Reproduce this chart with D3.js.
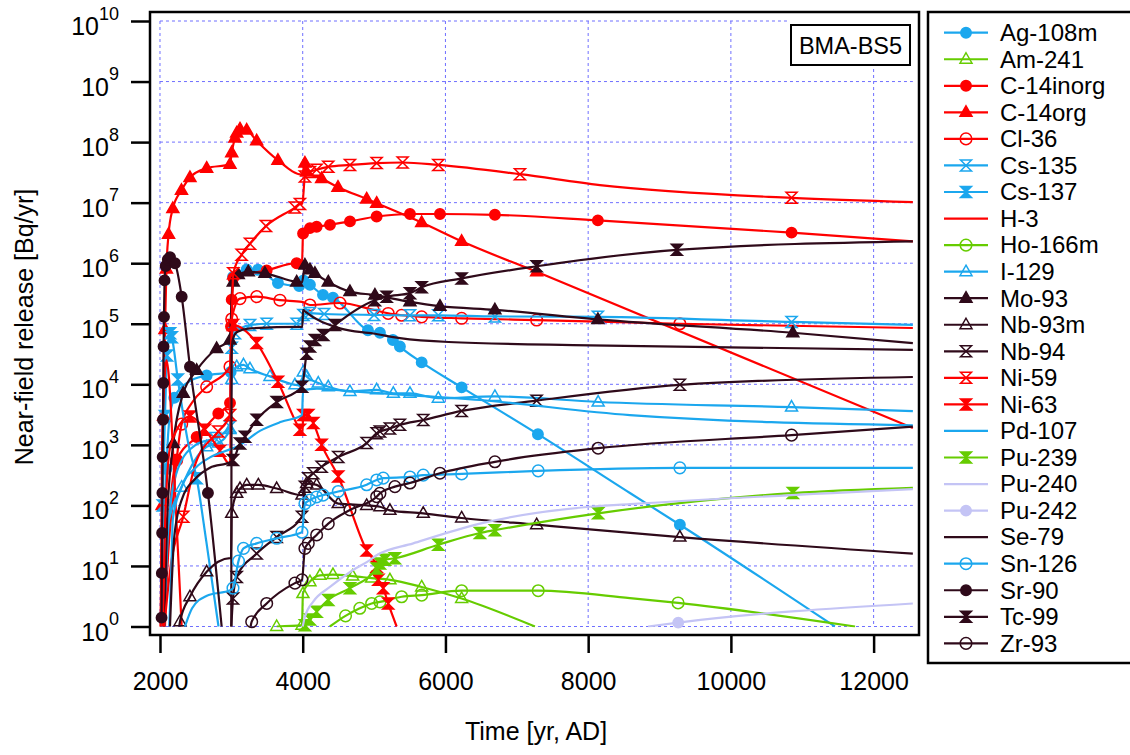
<!DOCTYPE html>
<html>
<head>
<meta charset="utf-8">
<script src="https://cdn.jsdelivr.net/npm/d3@7"></script>
<style>
  body { margin: 0; background: #fff; }
  svg text { font-family: "Liberation Sans", Arial, sans-serif; fill: #000; }
</style>
</head>
<body>
<svg id="chart" width="1130" height="755"></svg>
<script>
// [year AD, release Bq/yr, 1 = plotted symbol]
const ag108m = [[2040,1],[2060,30],[2090,400,1],[2130,2500],[2200,6000,1],[2400,1.1e4],[2654,1.4e4,1],[2990,1.6e4,1],[3005,3e5],[3023,5.9e5,1],[3215,7.9e5,1],[3373,7.8e5,1],[3653,4.7e5,1],[3950,4.2e5,1],[4010,5.2e5,1],[4101,4.4e5,1],[4284,3.0e5,1],[4424,2.7e5,1],[4914,7.8e4,1],[5082,7.1e4,1],[5264,5.4e4,1],[5362,4.2e4,1],[5667,2.3e4,1],[6227,8.9e3,1],[7296,1.5e3,1],[8585,160],[9285,48,1],[11457,1]];
const am241 = [[3635,1,1],[3990,1.05,1],[4003,3.5,1],[4101,5.5,1],[4242,7,1],[4424,7.2,1],[4700,6.8,1],[4966,6.3,1],[5222,5.9,1],[5667,4.5,1],[6227,2.9,1],[7254,1]];
const c14inorg = [[2070,1],[2120,40],[2234,560,1],[2514,1350,1],[2817,3300,1],[2981,4900,1],[2995,9e4,1],[3005,2.5e5,1],[3027,5.7e5,1],[3495,7.6e5,1],[3915,1e6,1],[3990,1e6],[4005,3.1e6,1],[4101,3.8e6,1],[4195,4e6,1],[4382,4.3e6,1],[4662,4.9e6,1],[5036,5.9e6,1],[5503,6.5e6,1],[5923,6.5e6,1],[6693,6.3e6,1],[8136,5.1e6,1],[10850,3.2e6,1],[12550,2.3e6]];
const c14org = [[2010,1],[2030,100,1],[2050,3e3,1],[2070,8e4,1],[2090,8e5,1],[2120,3e6,1],[2180,8e6,1],[2301,1.6e7,1],[2420,2.6e7,1],[2654,3.7e7,1],[2981,4.3e7,1],[3005,6.7e7,1],[3051,1.17e8,1],[3075,1.41e8,1],[3121,1.65e8,1],[3215,1.58e8,1],[3355,1.05e8,1],[3653,5e7,1],[3990,2.9e7],[4031,4.5e7,1],[4055,3.2e7,1],[4265,2.5e7,1],[4494,1.8e7,1],[4896,1.15e7,1],[5036,9.8e6,1],[5667,4.7e6,1],[6227,2.3e6,1],[7278,7.2e5,1],[12550,1.9e3]];
const cl36 = [[2060,1],[2120,20],[2200,200],[2234,560,1],[2304,2200,1],[2450,5000],[2654,9100,1],[2981,1.95e4,1],[3005,1.2e5,1],[3121,2.6e5,1],[3355,2.8e5,1],[3681,2.45e5,1],[3990,2.3e5],[4101,2.04e5,1],[4522,2.2e5,1],[4988,1.7e5,1],[5198,1.48e5,1],[5386,1.38e5,1],[5667,1.3e5,1],[6227,1.23e5,1],[7278,1.15e5,1],[9285,1.0e5,1],[12550,8.5e4]];
const cs135 = [[2060,1],[2120,50],[2250,400],[2500,1000],[2771,1300,1],[2981,2000,1],[3005,4e4,1],[3050,7e4,1],[3261,9.5e4,1],[3495,1.0e5,1],[3915,1.0e5,1],[3990,1.0e5],[4010,1.4e5,1],[4100,1.5e5,1],[4300,1.45e5,1],[5000,1.4e5,1],[5503,1.38e5,1],[5900,1.38e5,1],[6693,1.32e5,1],[8136,1.3e5,1],[10850,1.07e5,1],[12550,9.6e4]];
const cs137 = [[2020,1],[2040,100,1],[2070,3e3,1],[2100,3e4,1],[2140,7e4,1],[2165,6e4,1],[2250,1.2e4,1],[2400,1000],[2514,280,1],[2650,25],[2820,1]];
const h3 = [[2010,1],[2030,1e3],[2060,1e4],[2090,2.5e4],[2116,1.7e4],[2200,300],[2304,1]];
const ho166m = [[4380,1],[4600,1.5,1],[4800,2,1],[4966,2.4,1],[5082,2.55,1],[5386,3.1,1],[5667,3.3,1],[6227,3.9,1],[7300,3.9,1],[8585,2.95],[9260,2.45,1],[11740,1]];
const i129 = [[2060,1],[2100,40],[2304,200,1],[2654,930,1],[2817,1070,1],[2981,1800,1],[3005,1.2e4,1],[3075,1.95e4,1],[3170,2.1e4,1],[3261,1.8e4,1],[3541,1.35e4,1],[3891,9.8e3,1],[3990,9.5e3],[4008,1.6e4,1],[4055,1.35e4,1],[4218,1.05e4,1],[4358,9.1e3,1],[4662,7.6e3,1],[5036,8.1e3,1],[5270,7.1e3,1],[5503,7.1e3,1],[5900,5.9e3,1],[6693,6.3e3,1],[8140,5.1e3,1],[10850,4.2e3,1],[12550,3.6e3]];
const mo93 = [[2060,1],[2100,60],[2186,1050,1],[2326,7100,1],[2514,1.7e4,1],[2794,3.9e4,1],[2981,5.4e4,1],[3000,2e5],[3027,4.9e5,1],[3097,6.5e5,1],[3237,7.2e5,1],[3471,6.8e5,1],[3915,4.9e5,1],[3990,4.8e5],[4031,9.3e5,1],[4101,7.8e5,1],[4171,6.8e5,1],[4358,4.9e5,1],[4662,3.4e5,1],[5012,2.97e5,1],[5503,2.3e5,1],[5923,1.95e5,1],[6693,1.7e5,1],[8136,1.18e5,1],[10868,7.1e4,1],[12550,4.8e4]];
const nb93m = [[2270,1],[2280,1.2,1],[2420,3.1,1],[2654,8,1],[2981,13.5],[2995,13.5],[3005,74,1],[3075,158,1],[3121,190,1],[3215,218,1],[3378,218,1],[3635,190,1],[3990,148,1],[4055,230,1],[4195,218,1],[4498,107,1],[4896,100,1],[5082,95,1],[5222,83,1],[5689,74,1],[6227,62,1],[7278,48,1],[9285,30,1],[12550,16]];
const nb94 = [[3000,1],[3023,2.9,1],[3075,6.6,1],[3355,16,1],[3635,30,1],[3990,65,1],[4031,204,1],[4078,280,1],[4148,340,1],[4265,436,1],[4498,630,1],[4896,1070,1],[5036,1550,1],[5082,1660,1],[5222,1860,1],[5362,2140,1],[5689,2570,1],[6227,3630,1],[7278,5370,1],[9285,9800,1],[12550,1.32e4]];
const ni59 = [[2060,1],[2150,10],[2326,65,1],[2500,500],[2817,1660,1],[2981,3100,1],[3005,1e5],[3027,6.8e5,1],[3144,1.38e6,1],[3261,2.1e6,1],[3485,4.1e6,1],[3891,8.3e6,1],[3961,9.5e6,1],[3995,9.5e6],[4031,2.7e7,1],[4101,3.2e7,1],[4195,3.5e7,1],[4358,3.9e7,1],[4662,4.2e7,1],[5036,4.5e7,1],[5400,4.6e7,1],[5900,4.2e7,1],[7044,2.95e7,1],[8164,1.95e7],[10850,1.2e7,1],[12550,1.02e7]];
const ni63 = [[2040,1],[2080,100],[2150,1000],[2420,2950,1],[2630,1780,1],[2841,800,1],[2981,480],[3005,5e4],[3023,9.5e4,1],[3355,4.8e4,1],[3653,1.1e4,1],[3961,1780,1],[3995,1550],[4008,3100,1],[4078,3100,1],[4148,2300,1],[4265,1000,1],[4498,300,1],[4896,18,1],[5036,9.7,1],[5060,5.9,1],[5128,4.3,1],[5198,2.4,1],[5316,1]];
const pd107 = [[2130,1],[2160,10],[2180,60],[2300,200],[2500,420],[2700,620],[2990,850],[3075,930],[3400,1700],[3700,2400],[3990,3100],[4005,8000],[4200,8500],[4600,7800],[5000,7200],[6483,5500],[8585,3100],[12550,2100]];
const pu239 = [[3990,1],[4031,1.05,1],[4101,1.3,1],[4195,1.75,1],[4358,2.75,1],[4662,4.3,1],[5036,9.1,1],[5082,11,1],[5152,12.6,1],[5292,13.4,1],[5900,22.4,1],[6483,35,1],[6693,39,1],[8140,74,1],[10868,160,1],[12550,195]];
const pu240 = [[4000,1],[4031,1.45],[4150,2.6],[4382,4.5],[4700,8.5],[4942,12.5],[5036,15],[5549,23.6],[6483,50],[8024,95],[8585,105],[12550,186]];
const pu242 = [[8840,1],[9262,1.16,1],[12550,2.4]];
const se79 = [[2999,1],[3003,3e4],[3020,5.5e4],[3080,7.3e4],[3261,8.4e4],[3961,8.9e4],[3995,8.9e4],[4005,1.7e5],[4031,1.6e5],[4522,8.4e4],[4988,6.9e4],[5362,5.8e4],[6044,5e4],[8024,4.4e4],[12550,3.7e4]];
const sn126 = [[2350,1],[2450,2],[2650,3.2],[2990,4],[3023,4.3,1],[3100,12,1],[3170,19.5,1],[3355,23.6,1],[3635,28.6,1],[3990,36,1],[4031,107,1],[4101,123,1],[4195,138,1],[4285,148,1],[4498,170,1],[4896,219,1],[5036,263,1],[5128,282,1],[5503,295,1],[5689,316,1],[6227,331,1],[7300,372,1],[9285,417,1],[12550,417]];
const sr90 = [[2022,1.4,1],[2026,7.6,1],[2030,35,1],[2034,160,1],[2038,630,1],[2042,2600,1],[2046,1.05e4,1],[2050,4.2e4,1],[2056,1.3e5,1],[2064,5.2e5,1],[2080,9e5,1],[2110,1.15e6,1],[2140,1.26e6,1],[2210,1e6,1],[2304,2.8e5,1],[2420,1.95e4,1],[2672,160,1],[2864,1]];
const tc99 = [[2140,1],[2200,30],[2300,120],[2500,280],[2700,420],[2990,520],[3023,560,1],[3121,1050,1],[3191,1360,1],[3355,2600,1],[3635,5100,1],[3990,9100,1],[4055,3.2e4,1],[4101,4.2e4,1],[4171,5.4e4,1],[4288,6.5e4,1],[4452,9.5e4,1],[5012,2.45e5,1],[5176,2.8e5,1],[5503,3.2e5,1],[5667,4e5,1],[6227,5.6e5,1],[7278,8.9e5,1],[9243,1.66e6,1],[12550,2.3e6]];
const zr93 = [[3270,1],[3285,1.2,1],[3495,2.4,1],[3891,5.2,1],[3990,5.9,1],[4031,19.5,1],[4078,23.6,1],[4195,32.5,1],[4358,50,1],[4662,84,1],[5036,139,1],[5082,158,1],[5292,204,1],[5503,234,1],[5923,340,1],[6693,525,1],[8140,880,1],[10850,1450,1],[12550,2000]];

const xTicks = [2000, 4000, 6000, 8000, 10000, 12000];
const yExps = [0, 1, 2, 3, 4, 5, 6, 7, 8, 9, 10];

const RED = "#ff0000", BLUE = "#1ba7ee", GREEN = "#66cc00", LAV = "#c4c4f5", DARK = "#2f0a1a";

const series = [
  { name: "Ag-108m",   data: ag108m,   color: BLUE,  shape: "circle",    fill: true },
  { name: "Am-241",    data: am241,    color: GREEN, shape: "triangle",  fill: false },
  { name: "C-14inorg", data: c14inorg, color: RED,   shape: "circle",    fill: true },
  { name: "C-14org",   data: c14org,   color: RED,   shape: "triangle",  fill: true },
  { name: "Cl-36",     data: cl36,     color: RED,   shape: "circle",    fill: false },
  { name: "Cs-135",    data: cs135,    color: BLUE,  shape: "hourglass", fill: false },
  { name: "Cs-137",    data: cs137,    color: BLUE,  shape: "hourglass", fill: true },
  { name: "H-3",       data: h3,       color: RED,   shape: null },
  { name: "Ho-166m",   data: ho166m,   color: GREEN, shape: "circle",    fill: false },
  { name: "I-129",     data: i129,     color: BLUE,  shape: "triangle",  fill: false },
  { name: "Mo-93",     data: mo93,     color: DARK,  shape: "triangle",  fill: true },
  { name: "Nb-93m",    data: nb93m,    color: DARK,  shape: "triangle",  fill: false },
  { name: "Nb-94",     data: nb94,     color: DARK,  shape: "hourglass", fill: false },
  { name: "Ni-59",     data: ni59,     color: RED,   shape: "hourglass", fill: false },
  { name: "Ni-63",     data: ni63,     color: RED,   shape: "hourglass", fill: true },
  { name: "Pd-107",    data: pd107,    color: BLUE,  shape: null },
  { name: "Pu-239",    data: pu239,    color: GREEN, shape: "hourglass", fill: true },
  { name: "Pu-240",    data: pu240,    color: LAV,   shape: null },
  { name: "Pu-242",    data: pu242,    color: LAV,   shape: "circle",    fill: true },
  { name: "Se-79",     data: se79,     color: DARK,  shape: null },
  { name: "Sn-126",    data: sn126,    color: BLUE,  shape: "circle",    fill: false },
  { name: "Sr-90",     data: sr90,     color: DARK,  shape: "circle",    fill: true },
  { name: "Tc-99",     data: tc99,     color: DARK,  shape: "hourglass", fill: true },
  { name: "Zr-93",     data: zr93,     color: DARK,  shape: "circle",    fill: false }
];

const svg = d3.select("#chart");

const x = d3.scaleLinear().domain([1860, 12650]).range([150, 920]);
const y = d3.scaleLog().domain([1, 1e10]).range([626.5, 21]);

// grid
const grid = svg.append("g").attr("stroke", "#6f6fff").attr("stroke-width", 1).attr("stroke-dasharray", "3,3");
xTicks.forEach(t => {
  grid.append("line").attr("x1", x(t)).attr("x2", x(t)).attr("y1", y(1e10)).attr("y2", y(1));
});
yExps.forEach(e => {
  grid.append("line").attr("x1", x(2000)).attr("x2", x(12550)).attr("y1", y(Math.pow(10, e))).attr("y2", y(Math.pow(10, e)));
});

svg.append("clipPath").attr("id", "clip")
  .append("rect").attr("x", 150).attr("y", 12).attr("width", 770).attr("height", 615.5);

// marker shapes
function markerPath(shape) {
  if (shape === "triangle") return "M0,-6.5L6,4L-6,4Z";
  if (shape === "hourglass") return "M-5.5,-5.5L5.5,-5.5L-5.5,5.5L5.5,5.5Z";
  return null;
}
function drawMarker(g, s, cx, cy) {
  if (s.shape === "circle") {
    g.append("circle").attr("cx", cx).attr("cy", cy).attr("r", s.fill ? 5.2 : 5.8)
      .attr("fill", s.fill ? s.color : "none").attr("stroke", s.color).attr("stroke-width", 1.5);
  } else if (s.shape) {
    g.append("path").attr("d", markerPath(s.shape)).attr("transform", `translate(${cx},${cy})`)
      .attr("fill", s.fill ? s.color : "none").attr("stroke", s.color).attr("stroke-width", 1.5)
      .attr("stroke-linejoin", "miter");
  }
}

const line = d3.line()
  .x(d => x(d[0]))
  .y(d => y(d[1]))
  .curve(d3.curveMonotoneX);

const plot = svg.append("g");
series.forEach(s => {
  plot.append("path")
    .attr("d", line(s.data))
    .attr("fill", "none")
    .attr("stroke", s.color)
    .attr("stroke-width", 2.2)
    .attr("clip-path", "url(#clip)");
  const mg = plot.append("g");
  s.data.filter(d => d[2]).forEach(d => drawMarker(mg, s, x(d[0]), y(d[1])));
});

// label box
svg.append("rect").attr("x", 788).attr("y", 14).attr("width", 126).attr("height", 54).attr("fill", "#fff");
svg.append("rect").attr("x", 791).attr("y", 25).attr("width", 119).attr("height", 40)
  .attr("fill", "#fff").attr("stroke", "#000").attr("stroke-width", 2);
svg.append("text").attr("x", 850.5).attr("y", 53.5).attr("text-anchor", "middle")
  .attr("font-size", 23.5).text("BMA-BS5");

// frame
svg.append("rect").attr("x", 150).attr("y", 12).attr("width", 769).attr("height", 623)
  .attr("fill", "none").attr("stroke", "#000").attr("stroke-width", 2.5);

// x axis
const xAxis = svg.append("g").attr("transform", "translate(0,635)")
  .call(d3.axisBottom(x).tickValues(xTicks).tickSize(18).tickPadding(19).tickFormat(d3.format("d")));
xAxis.select(".domain").remove();
xAxis.selectAll(".tick line").attr("stroke", "#000").attr("stroke-width", 2.5);
xAxis.selectAll(".tick text").attr("font-size", 25).attr("font-family", "Liberation Sans, Arial, sans-serif").attr("fill", "#000");

// y axis
const yAxis = svg.append("g").attr("transform", "translate(150,0)")
  .call(d3.axisLeft(y).tickValues(yExps.map(e => Math.pow(10, e))).tickSize(19).tickFormat(""));
yAxis.select(".domain").remove();
yAxis.selectAll(".tick line").attr("stroke", "#000").attr("stroke-width", 2.5);
yExps.forEach(e => {
  const t = svg.append("text").attr("x", 119).attr("y", y(Math.pow(10, e)) + 14)
    .attr("text-anchor", "end").attr("font-size", 25).text("10");
  t.append("tspan").attr("dy", -15.5).attr("font-size", 18).text(e);
});

// axis titles
svg.append("text").attr("x", 536).attr("y", 740).attr("text-anchor", "middle")
  .attr("font-size", 25).text("Time [yr, AD]");
svg.append("text").attr("transform", "translate(33,327) rotate(-90)").attr("text-anchor", "middle")
  .attr("font-size", 25).text("Near-field release [Bq/yr]");

// legend
svg.append("rect").attr("x", 928).attr("y", 12).attr("width", 220).attr("height", 651)
  .attr("fill", "#fff").attr("stroke", "#000").attr("stroke-width", 2.5);
series.forEach((s, i) => {
  const ly = 32.7 + i * 26.55;
  const g = svg.append("g");
  g.append("line").attr("x1", 944).attr("x2", 988).attr("y1", ly).attr("y2", ly)
    .attr("stroke", s.color).attr("stroke-width", 2.2);
  drawMarker(g, s, 966, ly);
  g.append("text").attr("x", 1000).attr("y", ly + 8.3).attr("font-size", 24).text(s.name);
});
</script>
</body>
</html>
